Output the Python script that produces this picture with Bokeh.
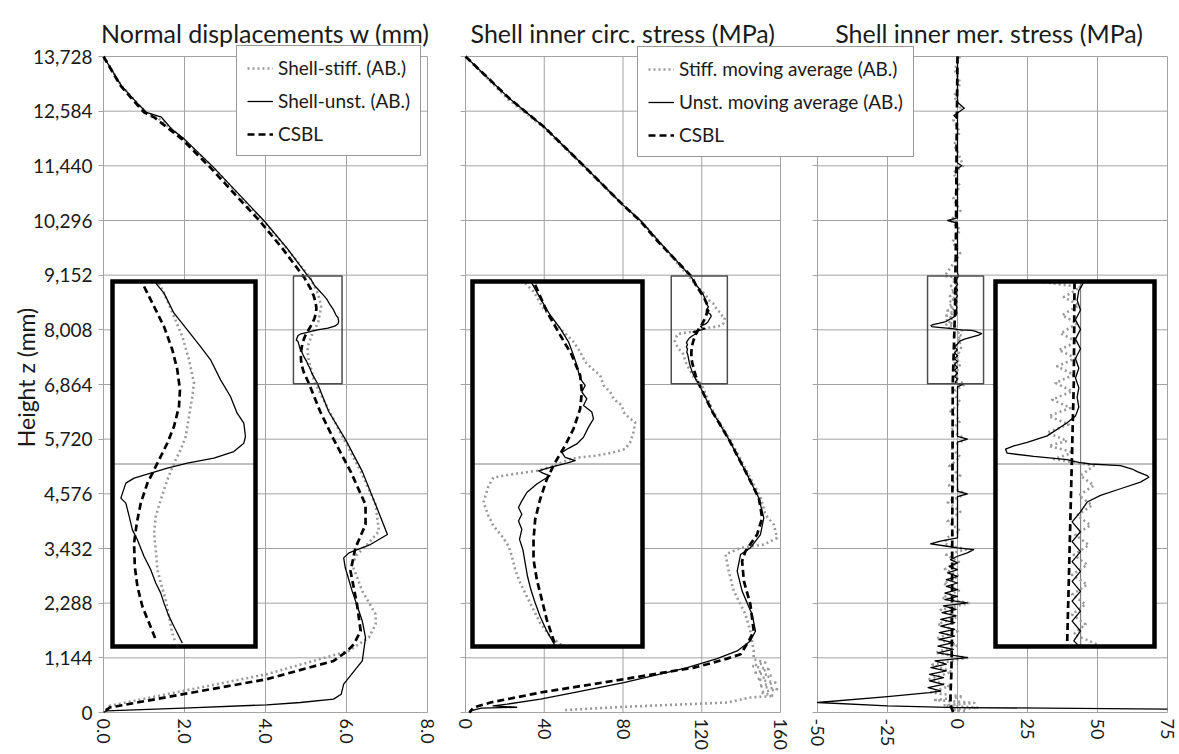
from bokeh.plotting import figure
from bokeh.models import (Range1d, LinearAxis, FixedTicker, Legend, LegendItem,
                          Label, CustomJSTickFormatter)
from bokeh.embed import file_html
from bokeh.resources import INLINE
from bokeh.core.properties import value

# ---------------- ticks / texts ----------------
z_ticks = [0, 1144, 2288, 3432, 4576, 5720, 6864, 8008, 9152, 10296, 11440, 12584, 13728]
z_tick_labels = ["0", "1,144", "2,288", "3,432", "4,576", "5,720", "6,864", "8,008",
                 "9,152", "10,296", "11,440", "12,584", "13,728"]
w_ticks = [0, 2, 4, 6, 8]
w_tick_labels = ["0.0", "2.0", "4.0", "6.0", "8.0"]
circ_ticks = [0, 40, 80, 120, 160]
circ_tick_labels = ["0", "40", "80", "120", "160"]
mer_ticks = [-50, -25, 0, 25, 50, 75]
mer_tick_labels = ["-50", "-25", "0", "25", "50", "75"]

titles = ["Normal displacements w (mm)", "Shell inner circ. stress (MPa)",
          "Shell inner mer. stress  (MPa)"]
y_title = "Height z (mm)"
legend1_labels = ["Shell-stiff. (AB.)", "Shell-unst. (AB.)", "CSBL"]
legend2_labels = ["Stiff. moving average (AB.)", "Unst. moving average (AB.)", "CSBL"]

# zoom windows shown in the insets
zoom_z = [6880, 9136]
zoom_w = [4.69, 5.89]
zoom_circ = [104.5, 133.0]
zoom_mer = [-10.7, 9.3]

# ---------------- series: [height z, value] ----------------
w_stiff = [[13728, 0.00], [13118, 0.44], [12701, 0.89], [12561, 1.04], [12457, 1.32], [12004, 1.97],
           [11413, 2.70], [10822, 3.35], [10264, 3.97], [9707, 4.53],
           [9126, 5.081], [9064, 5.122], [8920, 5.206], [8796, 5.276], [8652, 5.332], [8508, 5.374],
           [8425, 5.360], [8302, 5.332], [8178, 5.304], [8096, 5.262], [8013, 5.206], [7910, 5.150],
           [7787, 5.095], [7684, 5.053], [7581, 5.039], [7478, 5.053], [7354, 5.067], [7272, 5.095],
           [7169, 5.136], [7066, 5.164], [6963, 5.192], [6901, 5.220],
           [6299, 5.58], [5721, 5.93], [5046, 6.35], [4350, 6.72], [3793, 6.80], [3515, 6.51],
           [3306, 6.26], [3097, 6.14], [2540, 6.39], [2053, 6.72], [1845, 6.72], [1566, 6.55],
           [1288, 6.05], [801, 4.03], [453, 1.97], [140, 0.15], [0, 0.00]]

w_unst = [[13728, 0.00], [13118, 0.44], [12701, 0.89], [12561, 1.06], [12457, 1.43], [12213, 1.68],
          [12004, 1.99], [11413, 2.71], [10822, 3.37], [10264, 3.99], [9707, 4.54],
          [9126, 5.053], [9064, 5.122], [8940, 5.206], [8837, 5.318], [8734, 5.429], [8652, 5.513],
          [8528, 5.597], [8425, 5.680], [8322, 5.736], [8261, 5.792], [8178, 5.806], [8137, 5.792],
          [8085, 5.708], [8044, 5.541], [8013, 5.318], [7982, 5.150], [7952, 5.011], [7921, 4.871],
          [7890, 4.802], [7828, 4.774], [7797, 4.760], [7766, 4.802], [7684, 4.830], [7601, 4.857],
          [7540, 4.899], [7436, 4.955], [7354, 5.011], [7272, 5.053], [7210, 5.095], [7148, 5.122],
          [7066, 5.164], [7004, 5.206], [6942, 5.248], [6901, 5.276],
          [6299, 5.56], [5721, 5.97], [5046, 6.39], [4350, 6.72], [3724, 7.01], [3515, 6.59],
          [3341, 6.06], [3236, 5.93], [3028, 5.97], [2540, 6.14], [1914, 6.39], [1566, 6.47],
          [1079, 6.39], [592, 5.93], [383, 5.87], [279, 5.68], [209, 4.86], [161, 4.03],
          [92, 1.97], [35, 0.07], [0, 0.00]]

w_csbl = [[13728, 0.00], [13118, 0.42], [12701, 0.85], [12561, 1.00], [12457, 1.25], [12004, 1.93],
          [11413, 2.63], [10822, 3.27], [10264, 3.88], [9707, 4.42],
          [9105, 4.955], [8981, 5.039], [8858, 5.122], [8714, 5.192], [8590, 5.234], [8466, 5.256],
          [8363, 5.248], [8240, 5.206], [8137, 5.150], [8013, 5.067], [7890, 4.983], [7766, 4.927],
          [7643, 4.894], [7519, 4.871], [7375, 4.877], [7251, 4.899], [7127, 4.941], [7025, 4.997],
          [6922, 5.053],
          [6299, 5.35], [5721, 5.68], [5046, 6.10], [4350, 6.47], [3932, 6.47], [3445, 6.22],
          [2958, 6.10], [2262, 6.26], [1705, 6.35], [1427, 6.18], [1290, 6.02], [1150, 5.80],
          [1079, 5.68], [697, 4.03], [384, 1.97], [104, 0.15], [0, 0.00]]

circ_stiff = [[13728, 0.0], [12842, 21.5], [12252, 39.5], [11440, 59.8], [10620, 80.0], [10296, 88.9],
              [9846, 98.5],
              [9126, 113.33], [9074, 114.73], [8970, 116.40], [8888, 118.08], [8826, 119.76],
              [8763, 121.43], [8701, 122.55], [8639, 123.39], [8598, 124.51], [8556, 125.90],
              [8494, 126.46], [8453, 127.58], [8411, 128.14], [8370, 129.53], [8329, 129.81],
              [8287, 130.93], [8267, 131.77], [8205, 131.49], [8142, 130.93], [8101, 130.09],
              [8080, 128.14], [8060, 125.34], [8049, 122.55], [8039, 120.87], [7987, 117.52],
              [7966, 115.28], [7946, 111.37], [7925, 108.02], [7873, 107.18], [7770, 106.34],
              [7687, 107.18], [7625, 108.02], [7563, 109.42], [7501, 110.54], [7439, 111.09],
              [7356, 111.65], [7273, 112.49], [7190, 113.61], [7107, 114.73], [7025, 115.84],
              [6942, 117.52], [6880, 119.76],
              [6299, 125.8], [5721, 134.2], [5046, 143.0], [4489, 150.0], [4141, 152.3], [3932, 156.6],
              [3654, 158.3], [3515, 151.5], [3445, 139.7], [3306, 132.1], [2958, 133.7], [2540, 136.3],
              [2053, 142.2], [1705, 144.7], [1288, 146.4], [1114, 146.4], [1044, 152.3], [974, 145.6],
              [905, 154.0], [835, 147.3], [766, 155.7], [696, 148.1], [626, 157.4], [557, 149.0],
              [487, 158.3], [418, 149.8], [348, 156.6], [313, 144.7], [209, 132.9], [118, 80.4],
              [50, 49.9]]

circ_unst = [[13728, 0.0], [12842, 22.5], [12252, 40.0], [11440, 60.1], [10620, 80.0], [10296, 88.9],
             [9846, 98.5],
             [9126, 114.45], [9033, 115.84], [8929, 117.52], [8846, 119.20], [8763, 120.59],
             [8681, 121.43], [8619, 121.99], [8536, 122.55], [8494, 123.39], [8453, 122.83],
             [8411, 123.67], [8370, 123.11], [8329, 124.51], [8287, 124.78], [8236, 123.95],
             [8173, 123.11], [8132, 121.99], [8105, 120.59], [8080, 119.48], [8049, 120.03],
             [8029, 121.71], [8014, 120.31], [7998, 118.64], [7981, 116.96], [7966, 115.56],
             [7950, 116.40], [7935, 117.52], [7911, 116.40], [7884, 115.28], [7832, 113.61],
             [7780, 112.77], [7739, 112.21], [7697, 112.77], [7656, 112.21], [7604, 112.77],
             [7542, 112.38], [7480, 112.94], [7397, 113.33], [7314, 113.72], [7232, 114.28],
             [7149, 115.01], [7066, 115.84], [6983, 116.85], [6921, 117.80], [6884, 118.36],
             [6299, 125.3], [5721, 133.7], [5046, 142.2], [4489, 149.0], [4072, 151.5], [3724, 149.8],
             [3445, 144.7], [3306, 139.7], [2958, 138.0], [2540, 140.5], [2053, 145.6], [1705, 147.3],
             [1496, 144.7], [1288, 138.0], [1128, 127.8], [940, 112.6], [871, 105.8], [627, 80.4],
             [418, 55.0], [279, 38.1], [175, 21.2], [140, 14.0], [110, 26.0], [90, 8.0], [40, 3.0],
             [0, 2.0]]

circ_csbl = [[13728, 0.0], [12842, 22.5], [12252, 40.0], [11440, 60.1], [10620, 80.0], [10296, 88.5],
             [9846, 98.0],
             [9115, 115.01], [8950, 116.96], [8805, 119.20], [8681, 121.15], [8556, 122.55],
             [8453, 122.83], [8349, 122.55], [8225, 121.43], [8122, 120.03], [8018, 118.36],
             [7915, 116.96], [7790, 115.84], [7666, 115.01], [7542, 114.73], [7418, 114.73],
             [7294, 115.28], [7170, 116.12], [7045, 116.96], [6921, 118.08], [6890, 118.36],
             [6299, 125.3], [5721, 133.7], [5046, 142.2], [4489, 149.0], [4072, 150.7], [3724, 148.1],
             [3376, 142.2], [3167, 140.5], [2749, 141.4], [2262, 144.7], [1705, 146.4], [1496, 143.9],
             [1218, 139.7], [1128, 132.9], [1010, 122.7], [940, 116.0], [697, 80.4], [418, 38.1],
             [209, 12.7], [104, 4.2], [0, 2.0]]

mer_stiff = [[13728, 0.8], [13450, -1.0], [13170, 1.0], [12900, -1.2], [12650, 1.0], [12400, -1.5],
             [12150, 0.8], [11880, -1.2], [11600, 1.0], [11440, 2.0], [11300, -1.5], [11020, 0.8],
             [10750, -1.5], [10500, 1.0], [10296, -2.5], [10100, 1.0], [9850, -1.8], [9600, 1.0],
             [9350, -2.0],
             [9132, -4.62], [9101, -0.01], [9040, -2.10], [8989, -0.22], [8928, -2.31], [8876, -0.43],
             [8815, -2.52], [8764, -0.43], [8713, -2.73], [8662, -0.64], [8611, -2.94], [8560, -0.85],
             [8509, -3.15], [8458, -1.06], [8406, -3.57], [8355, -1.27], [8304, -3.99], [8253, -1.48],
             [8202, -4.20], [8151, -1.69], [8120, -3.99], [8080, -0.85], [8039, -3.36], [7998, 1.67],
             [7936, -0.01], [7875, 1.67], [7814, -0.22], [7753, 1.46], [7691, -0.43], [7630, 1.25],
             [7569, -0.64], [7507, 1.04], [7446, -0.85], [7385, 0.83], [7323, -1.06], [7262, 0.83],
             [7201, -1.06], [7140, 0.62], [7078, -1.06], [7017, 0.62], [6956, -0.85], [6884, 2.51],
             [6864, 2.5], [6700, -2.0], [6500, 1.0], [6300, -2.5], [6100, 1.0], [5900, -2.5],
             [5720, 3.0], [5550, -2.5], [5350, 1.0], [5150, -3.0], [4950, 1.0], [4750, -3.0],
             [4576, 3.0], [4400, -3.5], [4200, 1.0], [4000, -3.5], [3800, 1.0], [3650, -4.0],
             [3528, -4.5], [3410, 3.0], [3300, -4.0], [3150, 0.5], [3000, -4.5], [2850, 0.5],
             [2700, -5.0], [2550, 0.5], [2400, -5.5], [2288, 4.0], [2150, -6.0], [2000, 0.0],
             [1850, -7.0], [1700, 0.0], [1550, -7.5], [1400, 0.0], [1250, -8.0], [1144, 3.5],
             [1000, -9.0], [850, -2.0], [700, -10.0], [550, -3.0], [420, -9.5], [330, 2.0],
             [260, -8.0], [200, 6.0], [150, -5.0], [100, 7.5], [60, -2.0], [20, 3.0]]

mer_unst = [[13728, 0.0], [12770, 0.0], [12645, 2.4], [12492, -1.3], [12422, 0.0], [11500, 0.0],
            [11440, 1.5], [11380, 0.0], [10350, 0.0], [10296, -3.5], [10240, 0.0], [9200, 0.0],
            [9132, 0.41], [9080, -0.22], [9020, -0.43], [8960, -0.01], [8900, -0.64], [8840, -0.01],
            [8780, -0.64], [8720, -0.01], [8660, -0.64], [8600, -0.22], [8540, -0.64], [8480, -0.22],
            [8420, -0.43], [8360, -0.22], [8304, -0.64], [8263, -1.69], [8182, -4.20], [8141, -6.72],
            [8120, -8.39], [8100, -9.44], [8075, -9.23], [8055, -5.88], [8035, -1.69], [8018, -0.22],
            [8008, 1.25], [7998, 5.02], [7977, 6.49], [7961, 7.12], [7936, 8.38], [7926, 8.59],
            [7896, 7.54], [7855, 5.02], [7814, 2.51], [7773, 0.83], [7712, -0.01], [7650, -1.06],
            [7589, -0.01], [7528, -1.06], [7466, -0.01], [7405, -1.06], [7344, -0.01], [7283, -1.06],
            [7221, -0.01], [7160, -1.06], [7099, -0.01], [7037, -1.06], [6976, -0.01], [6915, -0.85],
            [6884, -0.22],
            [6864, 2.0], [6820, 0.0], [5780, 0.0], [5720, 3.5], [5660, 0.0], [4630, 0.0], [4576, 3.5],
            [4520, 0.0], [3653, 0.0], [3584, -6.1], [3528, -9.6], [3479, -3.7], [3445, 0.0],
            [3410, 5.8], [3340, 3.5], [3270, 0.0],
            [3200, -2.5], [3130, 0.0], [3060, -3.0], [2990, 0.0], [2920, -3.5], [2850, 0.0],
            [2780, -4.0], [2710, 0.0], [2640, -4.0], [2570, 0.0], [2500, -4.5], [2430, 0.0],
            [2360, -4.5], [2292, 3.5], [2230, -5.0], [2160, -0.5], [2090, -5.5], [2020, -0.5],
            [1950, -6.0], [1880, -1.0], [1810, -6.0], [1740, -1.0], [1670, -6.5], [1600, -1.0],
            [1530, -6.5], [1460, -1.5], [1390, -7.0], [1320, -1.5], [1250, -7.0], [1148, 3.5],
            [1080, -8.0], [1010, -4.0], [940, -9.5], [870, -4.0], [800, -10.0], [730, -5.0],
            [660, -10.0], [590, -5.0], [520, -10.5], [450, -6.0], [418, -10.0], [334, -25.0],
            [209, -50.0], [140, -25.0], [104, 0.0], [71, 75.0]]

mer_csbl = [[13728, 0.0], [12000, -0.3], [9600, -0.6], [9132, -0.76], [8509, -0.85], [8100, -1.06],
            [7691, -1.27], [7283, -1.48], [6894, -1.69], [5000, -1.8], [3000, -1.9], [1500, -2.0],
            [800, -2.2], [400, -2.5], [150, -2.5], [0, -1.5]]

# ---------------- layout (pixels) ----------------
W, H = 1179, 754
PLOT_PY = (56, 712)                        # top / bottom of the three panels
PANEL_PX = [(103, 427), (465, 780), (817, 1167)]
INSET_PX = [(112, 255), (472, 642), (995, 1154)]
INSET_PY = (281, 646)
FONT = "Lato"
TXT = "#1a1a1a"
GRID = "#a3a3a3"
STY = [dict(line_color="#9a9a9a", line_width=2.6, line_dash="2 3"),
       dict(line_color="black", line_width=1.3),
       dict(line_color="black", line_width=2.7, line_dash="7 4")]


def x_rng(lo, hi, a, b):
    u = (hi - lo) / (b - a)
    return Range1d(lo - a * u, hi + (W - b) * u)


def y_rng(lo, hi, top, bot):
    u = (hi - lo) / (bot - top)
    return Range1d(lo - (H - bot) * u, hi + top * u)


panels = [
    dict(ticks=w_ticks, labels=w_tick_labels, title=titles[0], series=[w_stiff, w_unst, w_csbl],
         win=zoom_w, legend=legend1_labels, box=(236, 156)),
    dict(ticks=circ_ticks, labels=circ_tick_labels, title=titles[1],
         series=[circ_stiff, circ_unst, circ_csbl], win=zoom_circ, legend=legend2_labels, box=(637, 157)),
    dict(ticks=mer_ticks, labels=mer_tick_labels, title=titles[2],
         series=[mer_stiff, mer_unst, mer_csbl], win=zoom_mer, legend=None, box=None),
]

zmin, zmax = z_ticks[0], z_ticks[-1]
p = figure(width=W, height=H, x_range=x_rng(w_ticks[0], w_ticks[-1], *PANEL_PX[0]),
           y_range=y_rng(zmin, zmax, *PLOT_PY), x_axis_type=None, y_axis_type=None,
           output_backend="svg", toolbar_location=None,
           min_border_left=0, min_border_right=0, min_border_top=0, min_border_bottom=0,
           outline_line_color=None, background_fill_color="white", border_fill_color="white")

legends = []
for i, pn in enumerate(panels):
    nm = f"p{i}"
    t = pn["ticks"]
    lo, hi = t[0], t[-1]
    p.extra_x_ranges[nm] = x_rng(lo, hi, *PANEL_PX[i])
    p.segment(x0=t, x1=t, y0=[zmin] * len(t), y1=[zmax] * len(t), x_range_name=nm,
              line_color=GRID, line_width=1, level="underlay")
    p.segment(x0=[lo] * len(z_ticks), x1=[hi] * len(z_ticks), y0=z_ticks, y1=z_ticks,
              x_range_name=nm, line_color=GRID, line_width=1, level="underlay")
    rs = []
    for ser, st in zip(pn["series"], STY):
        rs.append(p.line([q[1] for q in ser], [q[0] for q in ser], x_range_name=nm,
                         line_join="round", **st))
    wl, wh = pn["win"]
    p.quad(left=[wl], right=[wh], bottom=[zoom_z[0]], top=[zoom_z[1]], x_range_name=nm,
           fill_color=None, line_color="#4d4d4d", line_width=1.5)

    xa = LinearAxis(x_range_name=nm, fixed_location=zmin, ticker=FixedTicker(ticks=t),
                    major_label_overrides=dict(zip(t, pn["labels"])),
                    major_label_orientation="vertical", major_label_text_font=FONT,
                    major_label_text_font_size="18px", major_label_text_color=TXT,
                    major_label_standoff=6, major_tick_out=0, major_tick_in=0,
                    axis_line_color=None, major_tick_line_color=None, minor_tick_line_color=None)
    p.add_layout(xa, "below")
    if i == 0:
        ya = LinearAxis(x_range_name=nm, fixed_location=lo, ticker=FixedTicker(ticks=z_ticks),
                        major_label_overrides=dict(zip(z_ticks, z_tick_labels)),
                        axis_label=y_title, axis_label_text_font=FONT, axis_label_text_font_size="23px",
                        axis_label_text_font_style="normal", axis_label_text_color=TXT,
                        axis_label_standoff=-10, major_label_text_font=FONT,
                        major_label_text_font_size="19px", major_label_text_color=TXT,
                        major_label_standoff=6, axis_line_color=None, major_tick_line_color=GRID,
                        major_tick_out=5, major_tick_in=0, minor_tick_line_color=None)
    else:
        ya = LinearAxis(x_range_name=nm, fixed_location=lo, ticker=FixedTicker(ticks=z_ticks),
                        formatter=CustomJSTickFormatter(code="return ''"), axis_line_color=None,
                        major_tick_line_color=GRID, major_tick_out=5, major_tick_in=0,
                        minor_tick_line_color=None, major_label_text_font_size="1px")
    p.add_layout(ya, "left")

    p.add_layout(Label(x=(lo + hi) / 2, y=zmax, x_range_name=nm, text=pn["title"], text_font=FONT,
                       text_font_size="25px", text_color=TXT, text_align="center",
                       text_baseline="alphabetic", y_offset=24))
    if pn["legend"]:
        bx, by = pn["box"]
        legends.append(Legend(items=[LegendItem(label=value(lb), renderers=[r])
                                     for lb, r in zip(pn["legend"], rs)],
                              location=(bx, H - by), label_text_font=FONT, label_text_font_size="19px",
                              label_text_color=TXT, border_line_color="#333333", border_line_width=1,
                              background_fill_color="white", background_fill_alpha=1.0,
                              padding=10, spacing=10, margin=0, glyph_width=26, glyph_height=20,
                              label_height=20, label_standoff=5))

# insets (zoomed windows)
for i, pn in enumerate(panels):
    ix, iy = f"i{i}x", f"i{i}y"
    wl, wh = pn["win"]
    p.extra_x_ranges[ix] = x_rng(wl, wh, *INSET_PX[i])
    p.extra_y_ranges[iy] = y_rng(zoom_z[0], zoom_z[1], *INSET_PY)
    p.quad(left=[wl], right=[wh], bottom=[zoom_z[0]], top=[zoom_z[1]], x_range_name=ix,
           y_range_name=iy, fill_color="white", line_color=None)
    zin = [z for z in z_ticks if zoom_z[0] < z < zoom_z[1]]
    p.segment(x0=[wl] * len(zin), x1=[wh] * len(zin), y0=zin, y1=zin, x_range_name=ix,
              y_range_name=iy, line_color="#808080", line_width=1.2)
    if wl < 0 < wh:
        p.segment(x0=[0], x1=[0], y0=[zoom_z[0]], y1=[zoom_z[1]], x_range_name=ix,
                  y_range_name=iy, line_color="#808080", line_width=1.2)
    for ser, st in zip(pn["series"], STY):
        pts = [q for q in ser if zoom_z[0] <= q[0] <= zoom_z[1]]
        p.line([q[1] for q in pts], [q[0] for q in pts], x_range_name=ix, y_range_name=iy,
               line_join="round", **st)
    p.quad(left=[wl], right=[wh], bottom=[zoom_z[0]], top=[zoom_z[1]], x_range_name=ix,
           y_range_name=iy, fill_color=None, line_color="black", line_width=4.5, line_join="miter")

for lg in legends:
    p.add_layout(lg, "center")

open("out.html", "w").write(file_html(p, INLINE))
